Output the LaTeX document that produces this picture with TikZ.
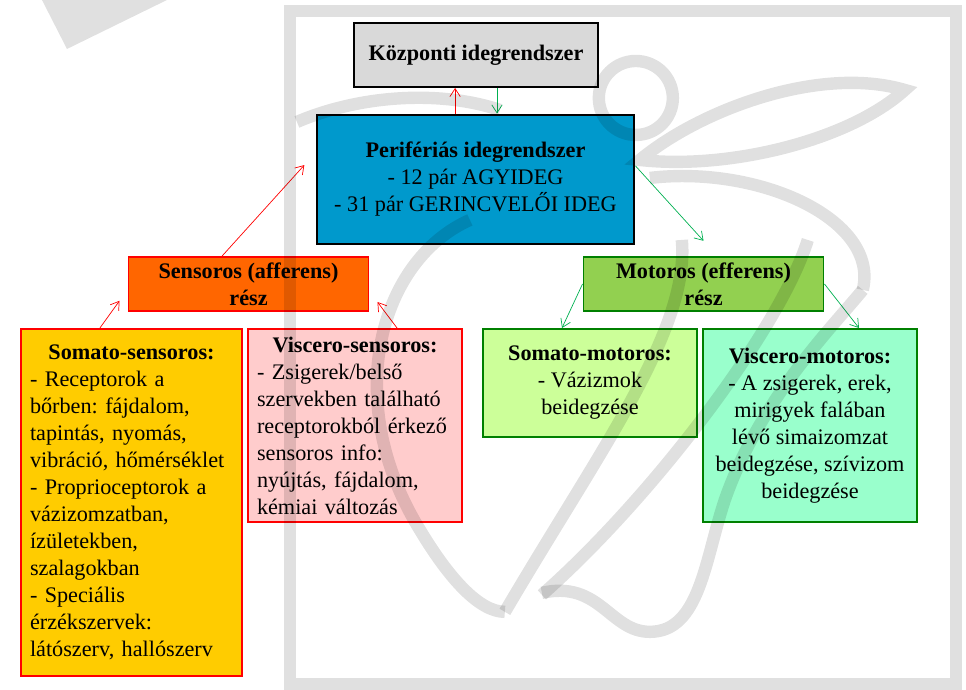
\documentclass[tikz,border=0pt]{standalone}
\usepackage{fontspec}
\setmainfont{Liberation Serif}
\usepackage{tikz}
\usetikzlibrary{arrows.meta, positioning}
\definecolor{kozpgray}{RGB}{217,217,217}
\definecolor{perifblue}{RGB}{0,153,204}
\definecolor{sensorange}{RGB}{255,102,0}
\definecolor{motgreen}{RGB}{146,208,80}
\definecolor{somyellow}{RGB}{255,204,0}
\definecolor{viscpink}{RGB}{255,204,204}
\definecolor{somlime}{RGB}{204,255,153}
\definecolor{viscmint}{RGB}{153,255,204}
\definecolor{borddarkgreen}{RGB}{0,128,0}
\definecolor{efgreen}{RGB}{0,176,80}

\begin{document}
\begin{tikzpicture}[box/.style={draw, line width=1.4pt, align=center, inner sep=0pt, font=\fontsize{15.8}{19.2}\selectfont\frenchspacing},
  afarr/.style={draw=red, line width=0.5pt, -{Straight Barb[length=2mm,width=2.6mm]}},
  efarr/.style={draw=efgreen, line width=0.5pt, -{Straight Barb[length=2mm,width=2.6mm]}},
  wm/.style={draw=black, opacity=0.12, line width=0.31cm}]
 \useasboundingbox (0,0) rectangle (24.15,17.225);
 % felso szint
 \node[box, fill=kozpgray, minimum width=6.1cm, minimum height=1.6cm] (kozp) at (11.9,15.85){\textbf{Központi idegrendszer}};
 \node[box, fill=perifblue, line width=2.1pt, minimum width=7.925cm, minimum height=3.225cm] (perif) at (11.8875,12.7375){\textbf{Perifériás idegrendszer}\\- 12 pár AGYIDEG\\- 31 pár GERINCVELŐI IDEG};
 % afferens / efferens
 \node[box, fill=sensorange, draw=red, minimum width=6cm, minimum height=1.35cm] (sens) at (6.2125,10.125){\textbf{Sensoros (afferens)}\\\textbf{rész}};
 \node[box, fill=motgreen, draw=borddarkgreen, minimum width=6cm, minimum height=1.35cm] (mot) at (17.5875,10.125){\textbf{Motoros (efferens)}\\\textbf{rész}};
 % also szint
 \node[box, fill=somyellow, draw=red, align=left, text width=5.075cm, minimum width=5.525cm, minimum height=8.675cm, anchor=north] (somsens) at (3.2875,9.025){{\centering\textbf{Somato-sensoros:}\par}- Receptorok a\\bőrben: fájdalom,\\tapintás, nyomás,\\vibráció, hőmérséklet\\- Proprioceptorok a\\vázizomzatban,\\ízületekben,\\szalagokban\\- Speciális\\érzékszervek:\\látószerv, hallószerv};
 \node[box, fill=viscpink, draw=red, align=left, text width=4.9cm, minimum width=5.35cm, minimum height=4.825cm, anchor=north] (viscsens) at (8.875,9.025){{\centering\textbf{Viscero-sensoros:}\par}- Zsigerek/belső\\szervekben található\\receptorokból érkező\\sensoros info:\\nyújtás, fájdalom,\\kémiai változás};
 \node[box, fill=somlime, draw=borddarkgreen, minimum width=5.35cm, minimum height=2.7cm, anchor=north] (sommot) at (14.75,9.025){\textbf{Somato-motoros:}\\- Vázizmok\\beidegzése};
 \node[box, fill=viscmint, draw=borddarkgreen, minimum width=5.35cm, minimum height=4.825cm, anchor=north] (viscmot) at (20.25,9.025){\textbf{Viscero-motoros:}\\- A zsigerek, erek,\\mirigyek falában\\lévő simaizomzat\\beidegzése, szívizom\\beidegzése};
 % nyilak
 \draw[afarr] ([xshift=-0.51cm]perif.north) -- ([xshift=-0.51cm]perif.north |- kozp.south);
 \draw[efarr] ([xshift=0.525cm]kozp.south) -- ([xshift=0.525cm]kozp.south |- perif.north);
 \draw[afarr] ([xshift=-0.66cm]sens.north) -- ([xshift=-0.28cm,yshift=0.36cm]perif.west);
 \draw[efarr] ([yshift=0.34cm]perif.east) -- ([yshift=0.38cm]mot.north);
 \draw[afarr] ([xshift=-0.79cm]somsens.north) -- ([xshift=-0.2cm,yshift=-0.42cm]sens.west);
 \draw[afarr] ([xshift=1.05cm]viscsens.north) -- ([xshift=0.2cm,yshift=-0.45cm]sens.east);
 \draw[efarr] (mot.west) -- ([xshift=-0.7cm]sommot.north);
 \draw[efarr] (mot.east) -- ([xshift=1.225cm]viscmot.north);
 % vizjel
 \begin{scope}[shift={(0,17.225)}, x=0.025cm, y=-0.025cm]
  \draw[wm] (290,11) rectangle (956,684);
  \fill[black, opacity=0.12] (42,0) -- (167,0) -- (67,49) -- cycle;
  \draw[wm] (636,98) circle[radius=0.925cm];
  \draw[wm] (905,90) .. controls (820,65) and (700,110) .. (640,160) .. controls (730,170) and (850,140) .. cycle;
  \draw[wm] (297,122) .. controls (360,95) and (440,90) .. (500,110);
  \draw[wm] (470,220) .. controls (380,260) and (340,400) .. (420,530) .. controls (450,580) and (480,612) .. (505,612);
  \draw[wm] (505,612) .. controls (600,450) and (690,330) .. (682,240);
  \draw[wm] (542,595) .. controls (650,500) and (780,330) .. (808,240);
  \draw[wm] (542,593) .. controls (600,580) and (610,632) .. (650,632) .. controls (700,632) and (705,560) .. (725,500) .. controls (760,400) and (830,330) .. (863,290);
  \draw[wm] (650,178) .. controls (760,165) and (880,220) .. (863,290);
 \end{scope}
\end{tikzpicture}
\end{document}
